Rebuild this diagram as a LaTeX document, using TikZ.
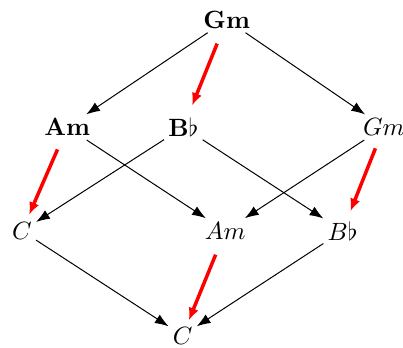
\documentclass[tikz,border=0pt]{standalone}
\usetikzlibrary{arrows.meta}
\tikzset{
  map/.style={-{Latex[length=5.5pt,width=4pt]}},
  redmap/.style={-{Latex[length=5pt,width=4.2pt]}, red, line width=1.4pt},
}

\begin{document}
\begin{tikzpicture}[every node/.style={inner sep=1.5pt}]
\useasboundingbox (0,0) rectangle (5.67,4.89);
% top and middle row
\node (gmtop) at (3.19,4.61) {$\mathbf{Gm}$};
\node (amb) at (0.945,3.10) {$\mathbf{Am}$};
\node (bbb) at (2.58,3.10) {$\mathbf{B}\flat$};
\node (gmi) at (5.40,3.10) {$Gm$};
% lower rows
\node (cl) at (0.31,1.64) {$C$};
\node (ami) at (3.17,1.64) {$Am$};
\node (bbi) at (4.82,1.64) {$B\flat$};
\node (cbot) at (2.57,0.17) {$C$};
\draw[map] (gmtop) -- (amb);
\draw[map] (gmtop) -- (gmi);
\draw[map] (amb) -- (ami);
\draw[map] (bbb) -- (cl);
\draw[map] (bbb) -- (bbi);
\draw[map] (gmi) -- (ami);
\draw[map] (cl) -- (cbot);
\draw[map] (bbi) -- (cbot);
% red arrows
\draw[redmap, shorten <=0.36cm, shorten >=0.33cm] (gmtop.center) -- (bbb.center);
\draw[redmap, shorten <=0.34cm, shorten >=0.25cm] (amb.center) -- (cl.center);
\draw[redmap, shorten <=0.32cm, shorten >=0.30cm] (gmi.center) -- (bbi.center);
\draw[redmap, shorten <=0.36cm, shorten >=0.23cm] (ami.center) -- (cbot.center);
\end{tikzpicture}
\end{document}
